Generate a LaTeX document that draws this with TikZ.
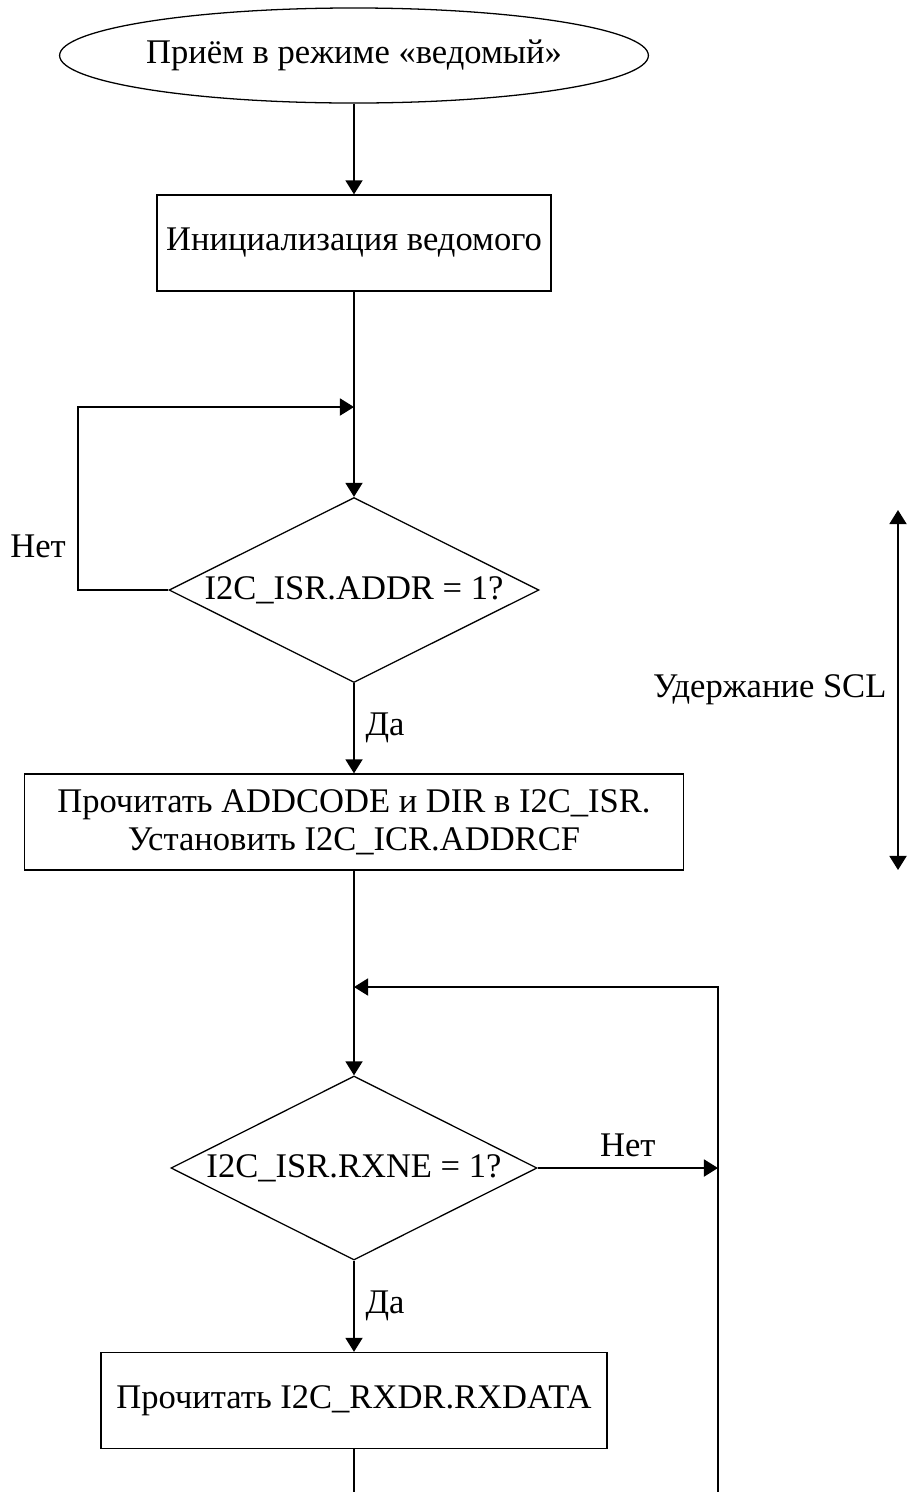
\documentclass[tikz,border=0pt]{standalone}
\usepackage{fontspec}
\setmainfont{Liberation Serif}
\usetikzlibrary{shapes.geometric,arrows.meta}
\begin{document}
\begin{tikzpicture}[x=0.3125pt,y=-0.3125pt,
  every node/.style={font=\fontsize{10.8}{12}\selectfont},
  termbox/.style={draw, ellipse, inner sep=0pt, minimum width=184pt, minimum height=29.7pt},
  procbox/.style={draw, rectangle, inner sep=0pt, align=center, minimum height=30pt},
  decbox/.style={draw, diamond, inner sep=0pt},
  conn/.style={line width=0.65pt},
  arr/.style={conn, -{Triangle[length=4.4pt,width=5.3pt]}},
  dblarr/.style={conn, {Triangle[length=4.4pt,width=5.3pt]}-{Triangle[length=4.4pt,width=5.3pt]}},
  lbl/.style={inner sep=3.3pt}]
\useasboundingbox (0,0) rectangle (906,1492);

\node[termbox] (start) at (354,55.5) {Приём в режиме «ведомый»};
\node[procbox, minimum width=123.1pt] (init) at (354,243) {Инициализация ведомого};
\node[decbox, minimum width=115.6pt, minimum height=57.8pt,
      label={[inner sep=0pt]center:I2C\_ISR.ADDR = 1?}] (d1) at (354,590) {};
\node[procbox, minimum width=206pt] (rd1) at (354,822) {Прочитать ADDCODE и DIR в I2C\_ISR.\\Установить I2C\_ICR.ADDRCF};
\node[decbox, minimum width=114.4pt, minimum height=57.5pt,
      label={[inner sep=0pt]center:I2C\_ISR.RXNE = 1?}] (d2) at (354,1168) {};
\node[procbox, minimum width=158.1pt] (rd2) at (354,1400.5) {Прочитать I2C\_RXDR.RXDATA};

\coordinate (j1) at (354,407);
\coordinate (l1) at (78,407);
\coordinate (j2) at (354,987);
\coordinate (r1) at (718,1168);
\coordinate (b1) at (354,1492);
\coordinate (b2) at (718,1492);
\coordinate (t1) at (898,510);
\coordinate (t2) at (898,870);

\draw[arr] (start) -- (init);
\draw[arr] (init) -- (d1);
\draw[arr] (d1.west) -| (l1) -- (j1);
\node[lbl] (no1) at (38,546) {Нет};
\draw[arr] (d1) -- node[lbl, right] (yes1) {Да} (rd1);
\draw[arr] (rd1) -- (d2);
\draw[arr] (d2.east) -- node[lbl, above] (no2) {Нет} (r1);
\draw[arr] (b2) |- (j2);
\draw[arr] (d2) -- node[lbl, right] (yes2) {Да} (rd2);
\draw[conn] (rd2) -- (b1);
\draw[dblarr] (t1) -- node[lbl, left] (scl) {Удержание SCL} (t2);
\end{tikzpicture}
\end{document}
